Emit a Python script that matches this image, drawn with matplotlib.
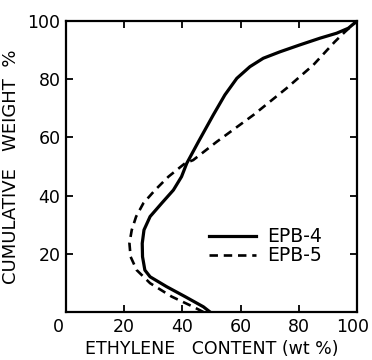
import matplotlib
matplotlib.use('Agg')
import matplotlib.pyplot as plt
import matplotlib.transforms as mtransforms

# cumulative weight (%) against ethylene content (wt %)
epb4_ethylene = [49.5, 47.2, 40.9, 34.6, 28.9, 27.1, 26.3, 26.2, 26.8, 28.9,
                 32.9, 36.9, 39.7, 41.5, 45.5, 50.6, 54.6, 58.7, 63.2, 67.8,
                 73.5, 80.4, 87.3, 93.0, 97.0, 100]
epb4_weight = [0, 1.8, 5.3, 8.7, 12.1, 14.4, 19, 23.6, 28.2, 32.8,
               37.4, 41.9, 46.5, 51.1, 58.5, 67.7, 74.6, 80.3, 84.3, 87.2,
               89.4, 91.8, 94.1, 95.8, 97.5, 100]

epb5_ethylene = [47.2, 43.7, 36.3, 28.9, 24.3, 22.2, 21.8, 22.6, 24.1, 26.6,
                 30.6, 35.2, 40.9, 43.7, 51.8, 64.4, 75.8, 85.0, 92.4, 95.9,
                 100]
epb5_weight = [0, 1.8, 5.3, 9.9, 14.4, 19, 23.6, 28.2, 32.8, 37.4,
               41.9, 46.5, 51.1, 52.2, 58.5, 67.7, 76.9, 84.9, 92.9, 96.3,
               100]

x_ticks = [0, 20, 40, 60, 80, 100]
y_ticks = [20, 40, 60, 80, 100]

fig = plt.figure(figsize=(3.72, 3.6), dpi=100)
ax = fig.add_axes([0.1774, 0.1333, 0.7823, 0.8084])

ax.plot(epb4_ethylene, epb4_weight, color='black', lw=2.3, label='EPB-4',
        solid_joinstyle='round')
ax.plot(epb5_ethylene, epb5_weight, color='black', lw=1.9,
        linestyle=(0, (3.2, 2.2)), label='EPB-5')

ax.set_xlim(0, 100)
ax.set_ylim(0, 100)
ax.set_xticks(x_ticks)
ax.set_yticks(y_ticks)
ax.tick_params(direction='in', length=5, width=1.3, top=True, right=True,
               labelsize=12.5, pad=4)
for spine in ax.spines.values():
    spine.set_linewidth(1.6)

# nudge the end labels away from the corners
fig.canvas.draw()
labels = ax.get_xticklabels()
left_shift = mtransforms.ScaledTranslation(-8 / 100, 0, fig.dpi_scale_trans)
right_shift = mtransforms.ScaledTranslation(-4 / 100, 0, fig.dpi_scale_trans)
labels[0].set_transform(labels[0].get_transform() + left_shift)
labels[-1].set_transform(labels[-1].get_transform() + right_shift)

ax.set_xlabel('ETHYLENE   CONTENT (wt %)', fontsize=12.5, labelpad=3)
ax.set_ylabel('CUMULATIVE   WEIGHT  %', fontsize=13, labelpad=5)

ax.legend(loc='lower right', bbox_to_anchor=(0.88, 0.16), frameon=False,
          fontsize=13.5, handlelength=2.5, handletextpad=0.6,
          labelspacing=0.0, borderpad=0, borderaxespad=0)

fig.savefig('out.png', dpi=100)
